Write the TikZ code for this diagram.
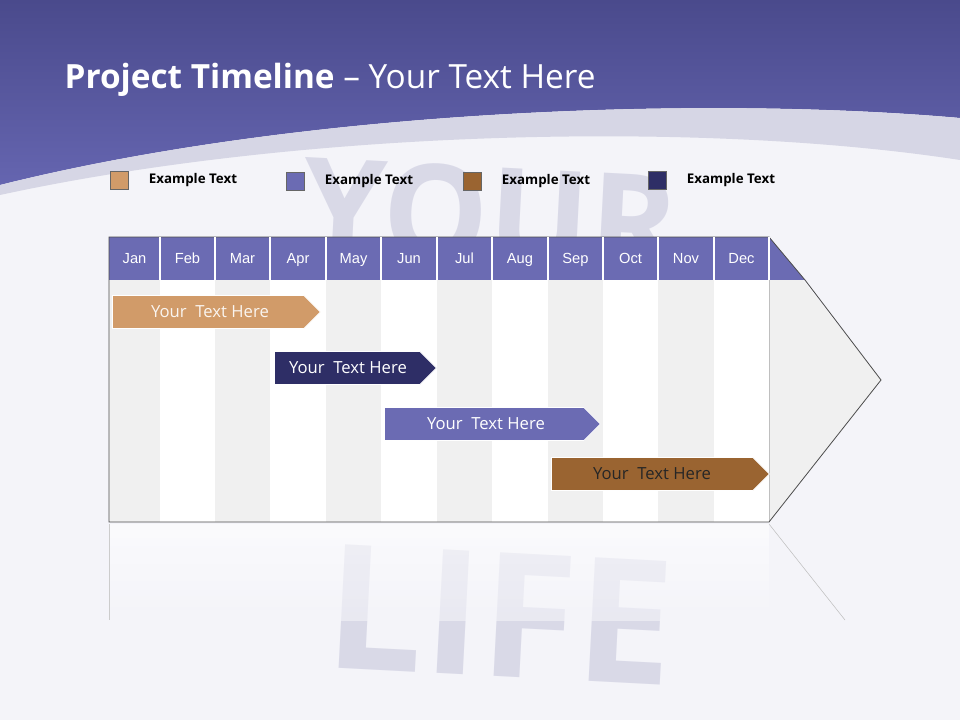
\documentclass[tikz,border=0pt]{standalone}
\usepackage{fontspec}
\setmainfont{Open Sans}
\newfontfamily\arialf{Liberation Sans}
\usetikzlibrary{shapes.arrows}
\definecolor{bgc}{HTML}{F4F4F9}
\definecolor{topc}{HTML}{4A4A8C}
\definecolor{midc}{HTML}{6565B0}
\definecolor{hdr}{HTML}{6B6BB3}
\definecolor{tanc}{HTML}{D19B69}
\definecolor{navy}{HTML}{2E2E66}
\definecolor{brn}{HTML}{9A6431}
\definecolor{colg}{HTML}{F0F0F0}
\definecolor{wm}{HTML}{C4C4DA}
\begin{document}
\begin{tikzpicture}[x=0.75pt,y=-0.75pt,
 bar/.style={single arrow, single arrow head extend=0pt, single arrow tip angle=90, inner sep=0pt, minimum height=#1, minimum width=33pt*0.75, anchor=west, shape border rotate=0, draw=white, line width=0.6pt},
 bt/.style={font=\fontsize{12.5}{14}\selectfont},
 leg/.style={draw=black!60, line width=0.4pt, minimum size=13.5pt, inner sep=0pt},
 legt/.style={anchor=west, font=\bfseries\fontsize{10}{12}\selectfont},
 mon/.style={font=\arialf\fontsize{11}{13}\selectfont, text=white, anchor=base}]
\useasboundingbox (0,0) rectangle (960,720);
\fill[bgc] (0,0) rectangle (960,720);
% banner
\shade[top color=topc, bottom color=midc] (0,0) -- (960,0) -- (960,118) .. controls (700,95) and (300,110) .. (0,185) -- cycle;
\fill[wm!70] (0,185) .. controls (300,110) and (700,95) .. (960,118) -- (960,160) .. controls (700,120) and (300,130) .. (0,195) -- cycle;
% watermark
\node[text=wm, opacity=0.55, font=\bfseries\fontsize{100}{100}\selectfont, rotate=-3] (wm1) at (490,215) {YOUR};
\node[text=wm, opacity=0.55, font=\bfseries\fontsize{130}{130}\selectfont, rotate=-3] (wm2) at (500,615) {LIFE};
% title
\node[anchor=west, text=white, font=\fontsize{25}{30}\selectfont] (title) at (60,80) {\textbf{Project Timeline} -- Your Text Here};
% legend
\node[leg, fill=tanc] (l1) at (119,180) {};
\node[legt] (t1) at ([xshift=12pt]l1.east) {Example Text};
\node[leg, fill=hdr] (l2) at (295,181) {};
\node[legt] (t2) at ([xshift=12pt]l2.east) {Example Text};
\node[leg, fill=brn] (l3) at (472,181) {};
\node[legt] (t3) at ([xshift=12pt]l3.east) {Example Text};
\node[leg, fill=navy] (l4) at (657,180) {};
\node[legt] (t4) at ([xshift=12pt]l4.east) {Example Text};
% reflection
\shade[top color=white, bottom color=bgc, opacity=0.6] (109,524) rectangle (769,620);
\draw[black!25] (769,524) -- (845,620);
\draw[black!20] (109,524) -- (109,620);
% body
\fill[colg] (769,237) -- (881,380) -- (769,522) -- cycle;
\foreach \a/\b [count=\i] in {109/160,160/215,215/270,270/326,326/381,381/437,437/492,492/548,548/603,603/658,658/714,714/769}{
  \ifodd\i \fill[colg] (\a,280) rectangle (\b,522); \else \fill[white] (\a,280) rectangle (\b,522); \fi
  \draw[black!25] (\b,280) -- (\b,522);
}
\fill[hdr] (109,237) rectangle (769,280);
\fill[hdr] (769,237) -- (805,280) -- (769,280) -- cycle;
\draw[black!70, line width=0.6pt] (805,280) -- (881,380) -- (769,522) -- (109,522) -- (109,237) -- (769,237) -- (805,280);
\foreach \a/\b/\m in {109/160/Jan,160/215/Feb,215/270/Mar,270/326/Apr,326/381/May,381/437/Jun,437/492/Jul,492/548/Aug,548/603/Sep,603/658/Oct,658/714/Nov,714/769/Dec}{
  \node[mon] (m\m) at ({(\a+\b)/2},264) {\m};
  \draw[white, line width=0.8pt] (\b,237) -- (\b,280);
}
% bars
\node[bar=208*0.75pt, fill=tanc] (b1) at (112,312) {};
\node[bt, text=white!90!tanc] (bt1) at (210,312) {Your\ \ Text Here};
\node[bar=162*0.75pt, fill=navy] (b2) at (274,368) {};
\node[bt, text=white] (bt2) at (348,368) {Your\ \ Text Here};
\node[bar=216*0.75pt, fill=hdr] (b3) at (384,424) {};
\node[bt, text=white] (bt3) at (486,424) {Your\ \ Text Here};
\node[bar=218*0.75pt, fill=brn] (b4) at (551,474) {};
\node[bt, text=black!85] (bt4) at (652,474) {Your\ \ Text Here};
\end{tikzpicture}
\end{document}
